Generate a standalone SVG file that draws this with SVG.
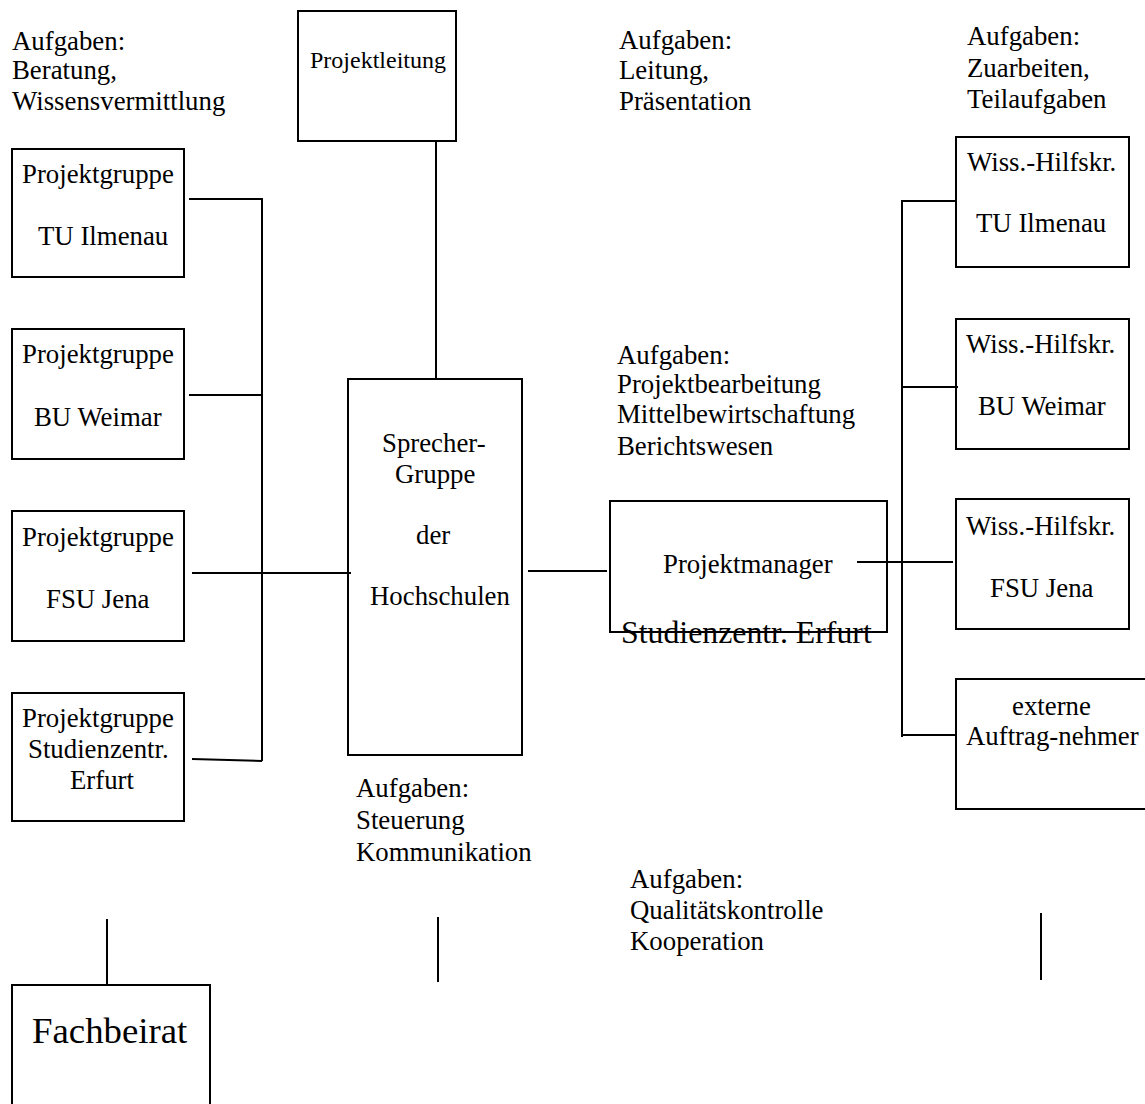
<svg xmlns="http://www.w3.org/2000/svg" width="1145" height="1104" viewBox="0 0 1145 1104">
<style>
text{font-family:"Liberation Serif","Times New Roman",serif;font-size:26.8px;fill:#000}
.box{fill:none;stroke:#000;stroke-width:2}
.ln{fill:none;stroke:#000;stroke-width:2}
</style>
<rect width="1145" height="1104" fill="#fff"/>
<g id="connectors">
<polyline class="ln" points="189,199 262,199 262,761"/>
<line class="ln" x1="189" y1="395" x2="262" y2="395"/>
<line class="ln" x1="192" y1="573" x2="351" y2="573"/>
<line class="ln" x1="192" y1="759" x2="262" y2="761"/>
<line class="ln" x1="436" y1="141" x2="436" y2="379"/>
<line class="ln" x1="528" y1="571" x2="607" y2="571"/>
<polyline class="ln" points="956,201 902,201 902,737"/>
<line class="ln" x1="902" y1="387" x2="958" y2="387"/>
<line class="ln" x1="857" y1="562" x2="953" y2="562"/>
<line class="ln" x1="902" y1="735" x2="956" y2="735"/>
<line class="ln" x1="107" y1="919" x2="107" y2="985"/>
<line class="ln" x1="438" y1="917" x2="438" y2="982"/>
<line class="ln" x1="1041" y1="913" x2="1041" y2="980"/>
</g>
<g id="projektleitung"><rect class="box" x="298" y="11" width="158" height="130"/><text x="310" y="68" style="font-size:24px">Projektleitung</text></g>
<g id="pg-ilmenau"><rect class="box" x="12" y="149" width="172" height="128"/><text x="22" y="183">Projektgruppe</text><text x="38" y="245">TU Ilmenau</text></g>
<g id="pg-weimar"><rect class="box" x="12" y="329" width="172" height="130"/><text x="22" y="363">Projektgruppe</text><text x="34" y="426">BU Weimar</text></g>
<g id="pg-jena"><rect class="box" x="12" y="511" width="172" height="130"/><text x="22" y="546">Projektgruppe</text><text x="46" y="608">FSU Jena</text></g>
<g id="pg-erfurt"><rect class="box" x="12" y="693" width="172" height="128"/><text x="22" y="727">Projektgruppe</text><text x="28" y="758">Studienzentr.</text><text x="70" y="789">Erfurt</text></g>
<g id="sprecher"><rect class="box" x="348" y="379" width="174" height="376"/><text x="382" y="452">Sprecher-</text><text x="395" y="483">Gruppe</text><text x="416" y="544">der</text><text x="370" y="605">Hochschulen</text></g>
<g id="projektmanager"><rect class="box" x="610" y="501" width="277" height="131"/><text x="663" y="573">Projektmanager</text><text x="621" y="643" style="font-size:31.8px">Studienzentr. Erfurt</text></g>
<g id="wh-ilmenau"><rect class="box" x="956" y="137" width="173" height="130"/><text x="967" y="171">Wiss.-Hilfskr.</text><text x="976" y="232">TU Ilmenau</text></g>
<g id="wh-weimar"><rect class="box" x="956" y="319" width="173" height="130"/><text x="966" y="353">Wiss.-Hilfskr.</text><text x="978" y="415">BU Weimar</text></g>
<g id="wh-jena"><rect class="box" x="956" y="499" width="173" height="130"/><text x="966" y="535">Wiss.-Hilfskr.</text><text x="990" y="597">FSU Jena</text></g>
<g id="extern"><rect class="box" x="956" y="679" width="200" height="130"/><text x="1012" y="715">externe</text><text x="966" y="745">Auftrag-nehmer</text></g>
<g id="fachbeirat"><rect class="box" x="12" y="985" width="198" height="130"/><text x="32" y="1043" style="font-size:36.8px">Fachbeirat</text></g>
<g id="labels">
<text x="12" y="50">Aufgaben:</text><text x="12" y="79">Beratung,</text><text x="12" y="110">Wissensvermittlung</text>
<text x="619" y="49">Aufgaben:</text><text x="619" y="79">Leitung,</text><text x="619" y="110">Präsentation</text>
<text x="967" y="45">Aufgaben:</text><text x="967" y="77">Zuarbeiten,</text><text x="967" y="108">Teilaufgaben</text>
<text x="617" y="364">Aufgaben:</text><text x="617" y="393">Projektbearbeitung</text><text x="617" y="423">Mittelbewirtschaftung</text><text x="617" y="455">Berichtswesen</text>
<text x="356" y="797">Aufgaben:</text><text x="356" y="829">Steuerung</text><text x="356" y="861">Kommunikation</text>
<text x="630" y="888">Aufgaben:</text><text x="630" y="919">Qualitätskontrolle</text><text x="630" y="950">Kooperation</text>
</g>
</svg>
